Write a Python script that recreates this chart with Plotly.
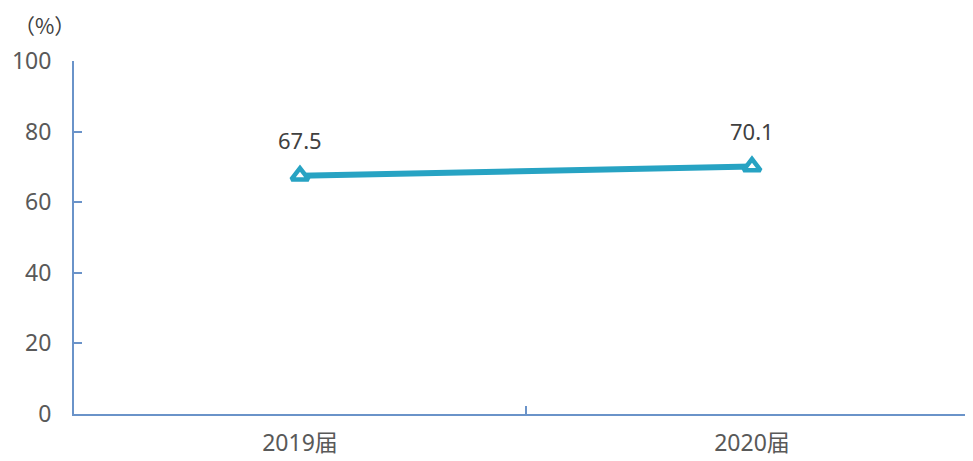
import plotly.graph_objects as go

categories = ["2019届", "2020届"]
values = [67.5, 70.1]
value_labels = ["67.5", "70.1"]
y_ticks = [0, 20, 40, 60, 80, 100]

axis_color = "#6a93c9"
line_color = "#27a3c3"
font_fam = "'Noto Sans', 'Noto Sans CJK SC', sans-serif"

W, H = 965, 453
ML, MT, MB = 66, 53, 47

fig = go.Figure()
fig.add_trace(go.Scatter(
    x=categories, y=values, mode="lines+markers",
    line=dict(color=line_color, width=6),
    marker=dict(symbol="triangle-up", size=15, color="white",
                line=dict(color=line_color, width=4.5)),
    cliponaxis=False, showlegend=False,
))

annotations = [dict(
    x=c, y=v, text=t, showarrow=False, yshift=36, xanchor="center",
    yanchor="middle", font=dict(size=22, color="#404040", family=font_fam),
) for c, v, t in zip(categories, values, value_labels)]

plot_w = W - ML
plot_h = H - MT - MB
annotations.append(dict(
    text="（%）", xref="paper", yref="paper",
    x=(36 - ML) / plot_w, y=1 + (MT - 17) / plot_h,
    xanchor="center", yanchor="middle", showarrow=False, borderpad=0,
    font=dict(size=21, color="#404040", family="'Noto Sans CJK SC', sans-serif"),
))

fig.update_layout(
    width=W, height=H,
    margin=dict(l=ML, r=0, t=MT, b=MB, pad=0),
    plot_bgcolor="white", paper_bgcolor="white",
    font=dict(family=font_fam, size=21, color="#595959"),
    xaxis=dict(
        type="category", range=[-0.5, 1.489],
        showline=True, linecolor=axis_color, linewidth=2,
        ticks="inside", tickson="boundaries", ticklen=8, tickwidth=2,
        tickcolor=axis_color, showgrid=False, zeroline=False,
        tickfont=dict(size=23, color="#595959"),
        ticklabelstandoff=7,
    ),
    yaxis=dict(
        range=[0, 100], tickvals=y_ticks,
        showline=True, linecolor=axis_color, linewidth=2,
        ticks="inside", ticklen=8, tickwidth=2, tickcolor=axis_color,
        showgrid=False, zeroline=False,
        tickfont=dict(size=23, color="#595959"),
        ticklabelstandoff=16,
    ),
    annotations=annotations,
)

fig.write_html("out.html")
